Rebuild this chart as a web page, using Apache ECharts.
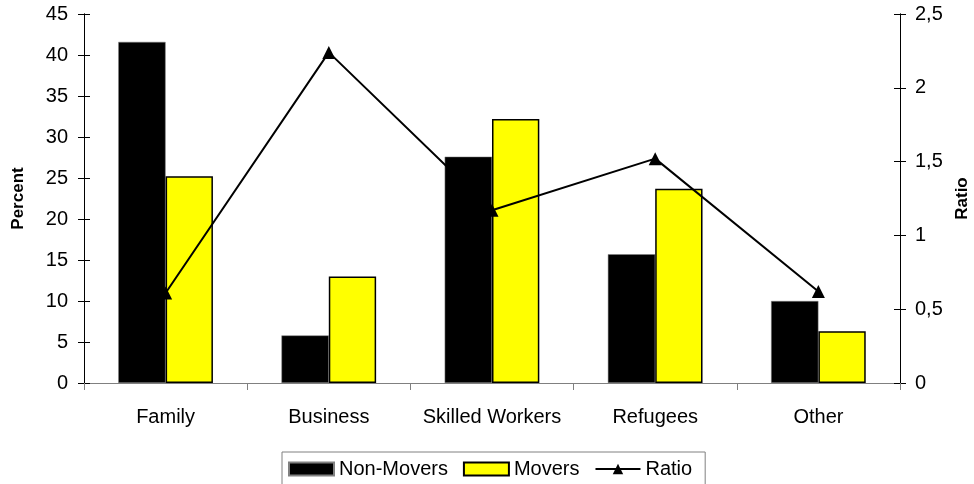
<!DOCTYPE html>
<html>
<head>
<meta charset="utf-8">
<script src="https://cdn.jsdelivr.net/npm/echarts@6/dist/echarts.min.js"></script>
<style>
  html, body { margin: 0; padding: 0; background: #fff; }
  #chart { width: 974px; height: 484px; }
</style>
</head>
<body>
<div id="chart"></div>
<script>
// Reasons for immigration: share of non-movers vs movers, and their ratio
const categories = ['Family', 'Business', 'Skilled Workers', 'Refugees', 'Other'];
const nonMovers = [41.6, 5.8, 27.6, 15.7, 10.0];
const movers = [25.2, 13.0, 32.2, 23.7, 6.3];
const ratio = [0.61, 2.24, 1.17, 1.52, 0.62];

const percentTicks = { min: 0, max: 45, interval: 5 };
const ratioTicks = { min: 0, max: 2.5, interval: 0.5 };

const font = 'Liberation Sans, Arial, sans-serif';
const chart = echarts.init(document.getElementById('chart'), null, { renderer: 'canvas' });

// Tick marks cross the value axes: an outside-tick axis carries the labels,
// a twin axis with inside ticks completes the cross.
function valueAxis(ticks, position, extra) {
  return Object.assign({
    type: 'value',
    position: position,
    min: ticks.min, max: ticks.max, interval: ticks.interval,
    axisLine: { show: true, onZero: false, lineStyle: { color: '#000', width: 1 } },
    axisTick: { show: true, length: 6, lineStyle: { color: '#000' } },
    splitLine: { show: false }
  }, extra);
}

chart.setOption({
  animation: false,
  backgroundColor: '#ffffff',
  textStyle: { fontFamily: font, color: '#000' },
  grid: { left: 84, right: 74, top: 14, bottom: 101, outerBoundsMode: 'none', containLabel: false },
  legend: {
    left: 282,
    top: 452,
    padding: [7, 13, 12, 6],
    itemGap: 15,
    itemWidth: 45,
    itemHeight: 13,
    borderColor: '#808080',
    borderWidth: 1,
    textStyle: { fontFamily: font, fontSize: 20, color: '#000' },
    data: [
      { name: 'Non-Movers', icon: 'rect' },
      { name: 'Movers', icon: 'rect' },
      { name: 'Ratio' }
    ]
  },
  xAxis: {
    type: 'category',
    data: categories,
    axisLine: { lineStyle: { color: '#808080', width: 1 } },
    axisTick: { show: true, interval: 0, length: 7, lineStyle: { color: '#808080' } },
    axisLabel: { interval: 0, hideOverlap: false, fontFamily: font, fontSize: 20, color: '#000', margin: 24 }
  },
  yAxis: [
    valueAxis(percentTicks, 'left', {
      name: 'Percent',
      nameLocation: 'middle',
      nameRotate: 90,
      nameGap: 57,
      nameTextStyle: { fontFamily: font, fontSize: 17, fontWeight: 'bold', color: '#000' },
      axisLabel: { fontFamily: font, fontSize: 20, color: '#000', margin: 16 }
    }),
    valueAxis(ratioTicks, 'right', {
      name: 'Ratio',
      nameLocation: 'middle',
      nameRotate: 90,
      nameGap: 51,
      nameTextStyle: { fontFamily: font, fontSize: 17, fontWeight: 'bold', color: '#000' },
      axisLabel: {
        fontFamily: font, fontSize: 20, color: '#000', margin: 15,
        formatter: v => String(v).replace('.', ',')
      }
    }),
    valueAxis(percentTicks, 'left', {
      axisTick: { show: true, inside: true, length: 6, lineStyle: { color: '#000' } },
      axisLabel: { show: false }
    }),
    valueAxis(ratioTicks, 'right', {
      axisTick: { show: true, inside: true, length: 6, lineStyle: { color: '#000' } },
      axisLabel: { show: false }
    })
  ],
  series: [
    {
      name: 'Non-Movers',
      type: 'bar',
      yAxisIndex: 0,
      data: nonMovers,
      barGap: '0%',
      barCategoryGap: '42%',
      itemStyle: { color: '#000000', borderColor: '#808080', borderWidth: 0.5 }
    },
    {
      name: 'Movers',
      type: 'bar',
      yAxisIndex: 0,
      data: movers,
      itemStyle: { color: '#ffff00', borderColor: '#000000', borderWidth: 1.5 }
    },
    {
      name: 'Ratio',
      type: 'line',
      yAxisIndex: 1,
      data: ratio,
      symbol: 'triangle',
      symbolSize: 13,
      lineStyle: { color: '#000', width: 2 },
      itemStyle: { color: '#000' },
      z: 5
    }
  ]
});
</script>
</body>
</html>
